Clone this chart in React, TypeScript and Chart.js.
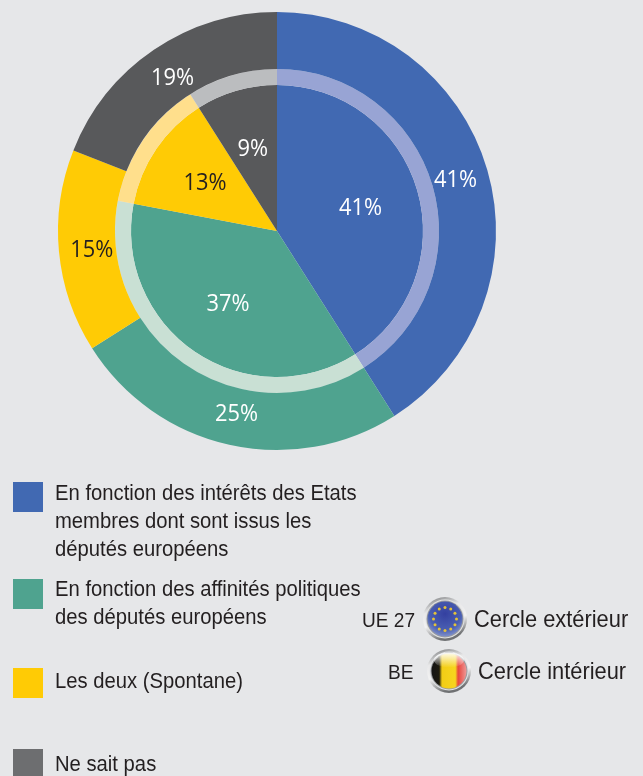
import React, { useEffect, useRef } from "react";
import { Chart, registerables, Plugin } from "chart.js";

Chart.register(...registerables);

const categories = [
  "En fonction des intérêts des Etats membres dont sont issus les députés européens",
  "En fonction des affinités politiques des députés européens",
  "Les deux (Spontane)",
  "Ne sait pas",
];
const outerValues = [41, 25, 15, 19]; // UE 27
const innerValues = [41, 37, 13, 9]; // BE
const sliceColors = ["#4169b2", "#4fa38f", "#ffcb05", "#58595b"];
const ringColors = ["#98a4d4", "#c9e0d4", "#ffdf8c", "#bbbdbf"];
const labelColors = ["#ffffff", "#ffffff", "#231f20", "#ffffff"];
const swatchColors = ["#4169b2", "#4fa38f", "#ffcb05", "#6d6e70"];

const legendLines = [
  ["En fonction des intérêts des Etats", "membres dont sont issus les", "députés européens"],
  ["En fonction des affinités politiques", "des députés européens"],
  ["Les deux (Spontane)"],
  ["Ne sait pas"],
];
const legendTops = [482, 579, 668, 749];
const legendTextTops = [478.5, 575, 667, 750];

const valueLabels: Plugin<"doughnut"> = {
  id: "valueLabels",
  afterDatasetsDraw(chart) {
    const { ctx } = chart;
    ctx.save();
    ctx.textAlign = "center";
    ctx.textBaseline = "middle";
    ctx.font = "400 23px 'Open Sans'";
    [
      { index: 0, radius: 186 },
      { index: 2, radius: 87 },
    ].forEach(({ index, radius }) => {
      const values = chart.data.datasets[index].data as number[];
      chart.getDatasetMeta(index).data.forEach((el: any, i: number) => {
        const a = (el.startAngle + el.endAngle) / 2;
        ctx.save();
        ctx.translate(el.x + Math.cos(a) * radius, el.y + Math.sin(a) * radius + 1.5);
        ctx.scale(0.95, 1);
        ctx.fillStyle = labelColors[i];
        ctx.fillText(`${values[i]}%`, 0, 0);
        ctx.restore();
      });
    });
    ctx.restore();
  },
};

const Chrome = ({ id }: { id: string }) => (
  <>
    <defs>
      <linearGradient id={id} x1="0" y1="0" x2="0.3" y2="1">
        <stop offset="0%" stopColor="#6f7173" />
        <stop offset="35%" stopColor="#e8e8e9" />
        <stop offset="65%" stopColor="#f2f2f2" />
        <stop offset="100%" stopColor="#6f7173" />
      </linearGradient>
    </defs>
    <circle r="22" fill={`url(#${id})`} />
    <circle r="19.5" fill="#e2e3e4" />
    <circle r="18.5" fill="#9a9c9f" />
  </>
);

const EuIcon = () => (
  <svg width="48" height="48" viewBox="-24 -24 48 48" style={{ position: "absolute", left: 421, top: 595 }}>
    <defs>
      <radialGradient id="eu" cx="50%" cy="35%" r="65%">
        <stop offset="0%" stopColor="#3440a0" />
        <stop offset="70%" stopColor="#4a5fb2" />
        <stop offset="100%" stopColor="#7f90c8" />
      </radialGradient>
    </defs>
    <Chrome id="chrome1" />
    <circle r="17.5" fill="url(#eu)" />
    {[0, 30, 60, 90, 120, 150, 180, 210, 240, 270, 300, 330].map((d) => (
      <circle
        key={d}
        cx={11.5 * Math.cos((d * Math.PI) / 180)}
        cy={11.5 * Math.sin((d * Math.PI) / 180)}
        r="1.5"
        fill="#e3c23a"
      />
    ))}
  </svg>
);

const BeIcon = () => (
  <svg width="48" height="48" viewBox="-24 -24 48 48" style={{ position: "absolute", left: 425, top: 647 }}>
    <defs>
      <linearGradient id="beFlag" x1="0" y1="0" x2="1" y2="0">
        <stop offset="0%" stopColor="#141414" />
        <stop offset="22%" stopColor="#1c1a10" />
        <stop offset="30%" stopColor="#f2cc16" />
        <stop offset="68%" stopColor="#f7d51e" />
        <stop offset="76%" stopColor="#e8453c" />
        <stop offset="100%" stopColor="#ee9a98" />
      </linearGradient>
      <linearGradient id="beGloss" x1="0" y1="0" x2="0" y2="1">
        <stop offset="0%" stopColor="#ffffff" stopOpacity="0.95" />
        <stop offset="100%" stopColor="#ffffff" stopOpacity="0" />
      </linearGradient>
    </defs>
    <Chrome id="chrome2" />
    <circle r="17.5" fill="url(#beFlag)" />
    <ellipse cx="0" cy="-11" rx="15" ry="7.5" fill="url(#beGloss)" />
  </svg>
);

const textStyle: React.CSSProperties = {
  position: "absolute",
  fontFamily: "'Liberation Sans', sans-serif",
  color: "#231f20",
  whiteSpace: "nowrap",
  transformOrigin: "left top",
};

export default function App() {
  const ref = useRef<HTMLCanvasElement>(null);
  useEffect(() => {
    const chart = new Chart(ref.current!, {
      type: "doughnut",
      data: {
        labels: categories,
        datasets: [
          { data: outerValues, backgroundColor: sliceColors, borderWidth: 0, weight: 57 },
          { data: innerValues, backgroundColor: ringColors, borderWidth: 0, weight: 16 },
          { data: innerValues, backgroundColor: sliceColors, borderWidth: 0, weight: 146 },
        ],
      },
      options: {
        responsive: false,
        animation: false,
        cutout: 0,
        layout: { padding: { left: 58, right: 147, top: 12, bottom: 326 } },
        plugins: { legend: { display: false }, tooltip: { enabled: false } },
      },
      plugins: [valueLabels],
    });
    return () => chart.destroy();
  }, []);

  return (
    <div style={{ position: "absolute", left: 0, top: 0, width: 643, height: 776, overflow: "hidden", background: "#e6e7e9" }}>
      <canvas ref={ref} width={643} height={776} style={{ position: "absolute", left: 0, top: 0 }} />
      {categories.map((c, i) => (
        <div key={c}>
          <div style={{ position: "absolute", left: 13, top: legendTops[i], width: 30, height: 30, background: swatchColors[i] }} />
          <div style={{ ...textStyle, left: 55, top: legendTextTops[i], fontSize: 22, lineHeight: "28px", transform: "scaleX(0.92)" }}>
            {legendLines[i].map((l) => (
              <div key={l}>{l}</div>
            ))}
          </div>
        </div>
      ))}
      <div style={{ ...textStyle, left: 362, top: 606, fontSize: 21, lineHeight: "28px", transform: "scaleX(0.91)" }}>UE 27</div>
      <EuIcon />
      <div style={{ ...textStyle, left: 474, top: 605, fontSize: 24, lineHeight: "28px", transform: "scaleX(0.91)" }}>Cercle extérieur</div>
      <div style={{ ...textStyle, left: 388, top: 658, fontSize: 21, lineHeight: "28px", transform: "scaleX(0.91)" }}>BE</div>
      <BeIcon />
      <div style={{ ...textStyle, left: 478, top: 657, fontSize: 24, lineHeight: "28px", transform: "scaleX(0.91)" }}>Cercle intérieur</div>
    </div>
  );
}
